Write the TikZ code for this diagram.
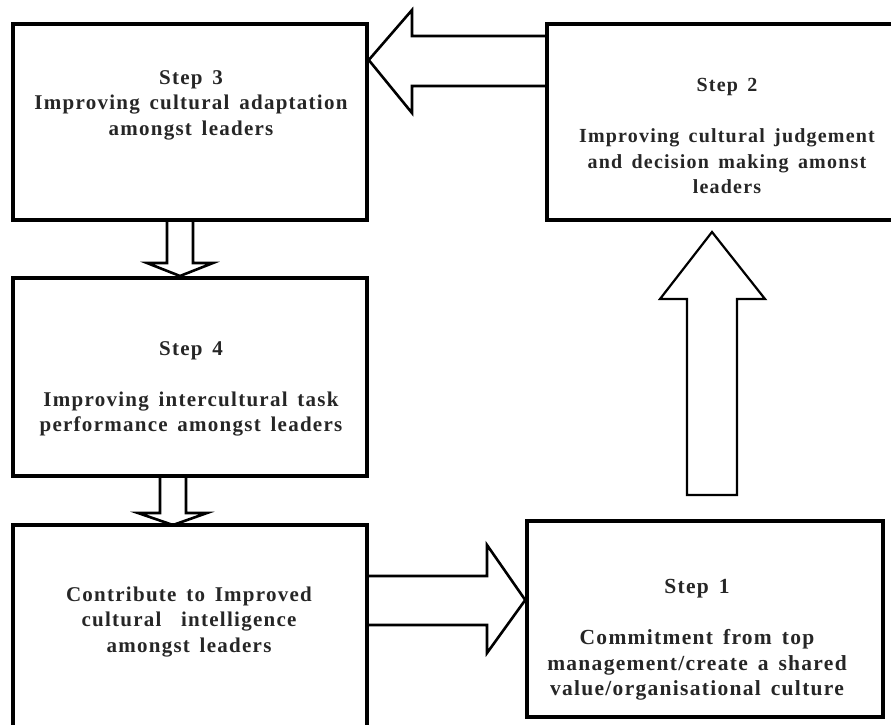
\documentclass[tikz,border=0pt]{standalone}
\usepackage{fontspec}
\setmainfont{Liberation Serif}[LetterSpace=6,WordSpace={1.5}]
\begin{document}
\begin{tikzpicture}[x=1pt,y=-1pt,
  box/.style={draw=black,line width=3.5pt,inner sep=0pt},
  barrow/.style={draw=black,line width=2.6pt,fill=white,line join=miter},
  txt/.style={align=center,font=\bfseries\fontsize{21}{25.5}\selectfont,text=black!85,inner sep=0pt}]
\useasboundingbox (0,0) rectangle (891,725);
\clip (0,0) rectangle (891,725);
% boxes
\node[box,minimum width=354pt,minimum height=196pt] (s3) at (190,122) {};
\node[box,minimum width=348pt,minimum height=196pt] (s2) at (721,122) {};
\node[box,minimum width=354pt,minimum height=198pt] (s4) at (190,377) {};
\node[box,minimum width=354pt,minimum height=205pt] (c) at (190,627.5) {};
\node[box,minimum width=356pt,minimum height=196pt] (s1) at (705,619) {};
% texts
\node[txt] (t3) at (191,105) {Step 3\\Improving cultural adaptation\\amongst leaders};
\node[txt,font=\bfseries\fontsize{20}{25.5}\selectfont] (t2) at (727,136) {Step 2\\[25.5pt]Improving cultural judgement\\and decision making amonst\\leaders};
\node[txt] (t4) at (191,389) {Step 4\\[25.5pt]Improving intercultural task\\performance amongst leaders};
\node[txt] (tc) at (189,622) {Contribute to Improved\\cultural \ intelligence\\amongst leaders};
\node[txt,font=\bfseries\fontsize{21.5}{25.5}\selectfont] (t1) at (697,640) {Step 1\\[25.5pt]Commitment from top\\management/create a shared\\value/organisational culture};
% block arrows
\draw[barrow] (s2.west |- 0,36) -- (412,36) -- (412,10) -- (s3.east |- 0,60) -- (412,113) -- (412,86) -- (s2.west |- 0,86);
\draw[barrow] (167,220) -- (167,263) -- (147,263) -- (180,276) -- (213,263) -- (193,263) -- (193,220);
\draw[barrow] (160,476) -- (160,513) -- (138,513) -- (173,525) -- (207,513) -- (186,513) -- (186,476);
\draw[barrow] (c.east |- 0,576) -- (487,576) -- (487,545) -- (s1.west |- 0,600) -- (487,653) -- (487,625) -- (c.east |- 0,625);
\draw[barrow,line width=2.2pt] (687,495) -- (687,299) -- (660,299) -- (712,232) -- (765,299) -- (737,299) -- (737,495) -- cycle;
% redraw box borders on top
\node[box,minimum width=354pt,minimum height=196pt] at (s3) {};
\node[box,minimum width=354pt,minimum height=198pt] at (s4) {};
\node[box,minimum width=354pt,minimum height=205pt] at (c) {};
\node[box,minimum width=348pt,minimum height=196pt] at (s2) {};
\node[box,minimum width=356pt,minimum height=196pt] at (s1) {};
\end{tikzpicture}
\end{document}
